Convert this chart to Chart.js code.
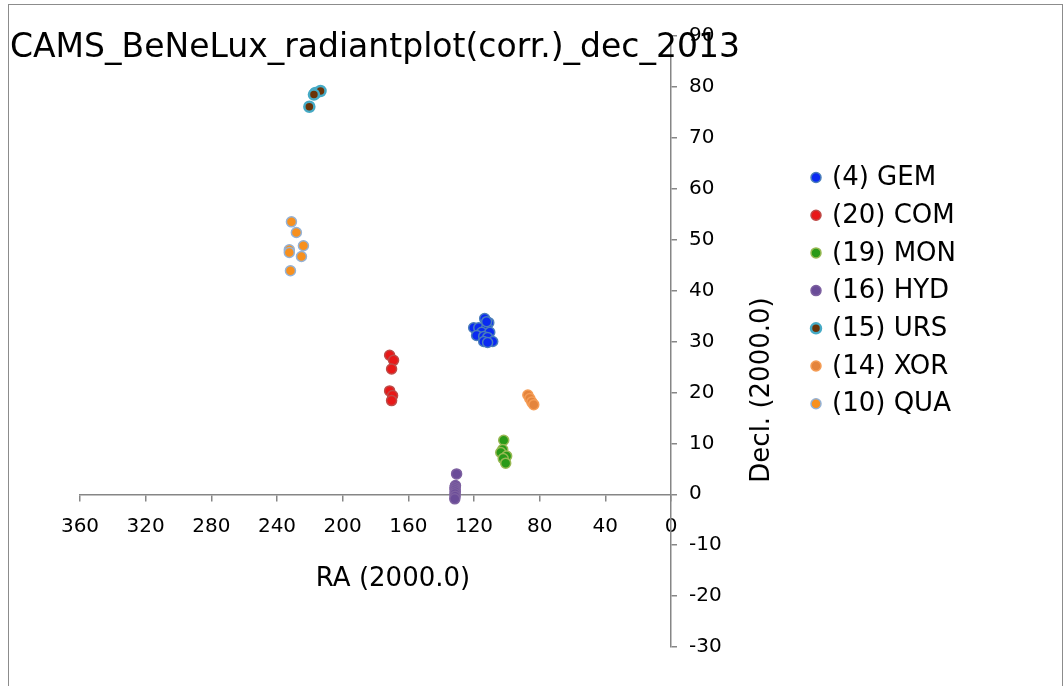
<!DOCTYPE html>
<html>
<head>
<meta charset="utf-8">
<script src="https://cdn.jsdelivr.net/npm/chart.js@4"></script>
<style>
  body { margin: 0; background: #fff; }
  #wrap { position: relative; width: 1064px; height: 686px; }
  #frame { position: absolute; left: 8px; top: 4px; width: 1053px; height: 700px; border: 1px solid #8c8c8c; }
</style>
</head>
<body>
<div id="wrap">
  <div id="frame"></div>
  <canvas id="chart" width="1064" height="686"></canvas>
</div>
<script>
// shower names for the legend
const showers = ["(4) GEM", "(20) COM", "(19) MON", "(16) HYD", "(15) URS", "(14) XOR", "(10) QUA"];

// radiant positions (RA, Decl.)
const gemRA = [113.5, 111.0, 120.2, 117.1, 112.3, 115.3, 110.4, 118.4, 114.1, 111.7, 114.1, 108.6, 111.7, 112.3];
const gemDec = [34.5, 33.7, 32.7, 32.7, 32.7, 31.8, 31.8, 31.2, 31.0, 30.8, 30.0, 30.0, 29.8, 33.9];
const comRA = [171.4, 169.0, 170.2, 171.4, 169.6, 170.2];
const comDec = [27.3, 26.3, 24.6, 20.3, 19.4, 18.4];
const monRA = [101.9, 102.5, 103.7, 100.1, 102.2, 100.7];
const monDec = [10.6, 8.8, 8.2, 7.5, 7.0, 6.1];
const hydRA = [130.6, 131.3, 131.6, 131.5, 131.4, 131.6, 131.5, 131.7];
const hydDec = [4.0, 1.7, 1.3, 0.9, 0.5, 0.1, -0.4, -0.9];
const ursRA = [216.6, 213.5, 217.5, 220.3];
const ursDec = [78.8, 79.2, 78.5, 76.1];
const xorRA = [87.2, 86.0, 84.8, 83.6];
const xorDec = [19.5, 18.8, 18.1, 17.6];
const quaRA = [231.2, 228.2, 223.9, 232.5, 232.5, 225.1, 231.8];
const quaDec = [53.5, 51.4, 48.8, 48.0, 47.5, 46.7, 43.9];

const xTicks = [360, 320, 280, 240, 200, 160, 120, 80, 40, 0];
const yTicks = [-30, -20, -10, 0, 10, 20, 30, 40, 50, 60, 70, 80, 90];

const FONT = "'DejaVu Sans', Verdana, sans-serif";
const axisColor = "#868686";

function pts(ra, dec) {
  return ra.map((r, i) => ({ x: r, y: dec[i] }));
}

function series(label, ra, dec, fill, border, bw) {
  return {
    label: label,
    data: pts(ra, dec),
    backgroundColor: fill,
    borderColor: border,
    borderWidth: bw || 1.5,
    pointRadius: 5,
    pointHoverRadius: 5,
  };
}

const datasets = [
  series(showers[0], gemRA, gemDec, "#0a2af2", "#4a7ebb"),
  series(showers[1], comRA, comDec, "#e81818", "#be4b48"),
  series(showers[2], monRA, monDec, "#2a9a18", "#98b954"),
  series(showers[3], hydRA, hydDec, "#6a4c98", "#7d60a0"),
  series(showers[4], ursRA, ursDec, "#6b3308", "#46aac5", 2.5),
  series(showers[5], xorRA, xorDec, "#e4843c", "#f59d56"),
  series(showers[6], quaRA, quaDec, "#f7901e", "#94b2d6"),
];

// title, axis titles and legend drawn by hand
const textPlugin = {
  id: "texts",
  afterDraw(chart) {
    const ctx = chart.ctx;
    ctx.save();
    ctx.fillStyle = "#000";
    ctx.textBaseline = "alphabetic";
    ctx.textAlign = "left";
    ctx.font = "33px " + FONT;
    ctx.fillText("CAMS_BeNeLux_radiantplot(corr.)_dec_2013", 10, 57);

    ctx.font = "26px " + FONT;
    ctx.textAlign = "center";
    ctx.textBaseline = "middle";
    ctx.fillText("RA (2000.0)", 393, 579);

    ctx.save();
    ctx.translate(762, 390);
    ctx.rotate(-Math.PI / 2);
    ctx.fillText("Decl. (2000.0)", 0, 0);
    ctx.restore();

    ctx.textAlign = "left";
    chart.data.datasets.forEach((ds, i) => {
      const y = 177.5 + i * 37.7;
      ctx.beginPath();
      ctx.arc(816, y, 5, 0, Math.PI * 2);
      ctx.fillStyle = ds.backgroundColor;
      ctx.fill();
      ctx.lineWidth = ds.borderWidth;
      ctx.strokeStyle = ds.borderColor;
      ctx.stroke();
      ctx.fillStyle = "#000";
      ctx.fillText(ds.label, 832, y + 1);
    });
    ctx.restore();
  },
};

new Chart(document.getElementById("chart"), {
  type: "scatter",
  data: { datasets: datasets },
  plugins: [textPlugin],
  options: {
    responsive: false,
    animation: false,
    layout: { padding: { left: 80, top: 36, right: 333, bottom: 39 } },
    plugins: {
      legend: { display: false },
      title: { display: false },
      tooltip: { enabled: false },
    },
    scales: {
      x: {
        type: "linear",
        reverse: true,
        min: 0,
        max: 360,
        position: { y: 0 },
        afterBuildTicks: (s) => { s.ticks = xTicks.map((v) => ({ value: v })); },
        ticks: { color: "#000", font: { family: FONT, size: 20 }, padding: 15, maxRotation: 0, autoSkip: false },
        grid: { drawOnChartArea: false, drawTicks: true, tickLength: 6, color: axisColor, lineWidth: 1.5 },
        border: { color: axisColor, width: 1.5 },
      },
      y: {
        type: "linear",
        min: -30,
        max: 90,
        position: "right",
        afterBuildTicks: (s) => { s.ticks = yTicks.map((v) => ({ value: v })); },
        afterFit: (s) => { s.width = 60; },
        ticks: { color: "#000", font: { family: FONT, size: 20 }, padding: 12, autoSkip: false },
        grid: { drawOnChartArea: false, drawTicks: true, tickLength: 6, color: axisColor, lineWidth: 1.5 },
        border: { color: axisColor, width: 1.5 },
      },
    },
  },
});
</script>
</body>
</html>
